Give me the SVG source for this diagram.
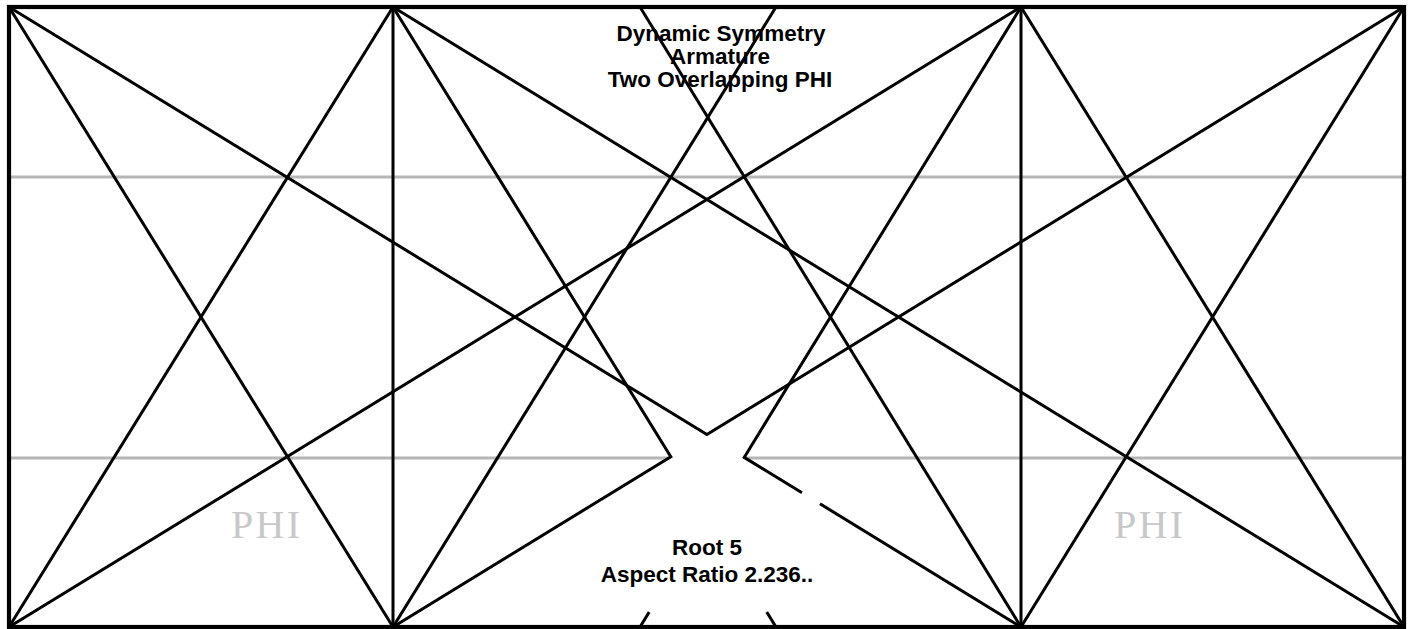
<svg xmlns="http://www.w3.org/2000/svg" width="1413" height="629" viewBox="0 0 1413 629">
<style>
.bg{fill:#ffffff}
.frame{fill:none;stroke:#000;stroke-width:4.2}
.ln{fill:none;stroke:#000;stroke-width:3;stroke-linejoin:miter;stroke-linecap:butt}
.gr{fill:none;stroke:#b6b6b6;stroke-width:3}
.title{font-family:"Liberation Sans",Arial,sans-serif;font-weight:bold;font-size:22.5px;fill:#000;text-anchor:middle}
.phi{font-family:"Liberation Serif","Times New Roman",serif;font-size:40px;fill:#c8c8c8}
</style>
<rect class="bg" x="0" y="0" width="1413" height="629"/>
<g id="guides">
<line class="gr" x1="9" y1="177" x2="1404" y2="177"/>
<line class="gr" x1="9" y1="458" x2="668" y2="458"/>
<line class="gr" x1="746" y1="458" x2="1404" y2="458"/>
</g>
<g id="connectors">
<line class="ln" x1="393" y1="7" x2="393" y2="627"/>
<line class="ln" x1="1021" y1="7" x2="1021" y2="627"/>
<line class="ln" x1="9" y1="7" x2="393" y2="627"/>
<line class="ln" x1="393" y1="7" x2="9" y2="627"/>
<line class="ln" x1="1021" y1="7" x2="1404" y2="627"/>
<line class="ln" x1="1404" y1="7" x2="1021" y2="627"/>
<line class="ln" x1="9" y1="627" x2="1021" y2="7"/>
<line class="ln" x1="393" y1="7" x2="1404" y2="627"/>
<line class="ln" x1="640" y1="7" x2="1021" y2="627"/>
<line class="ln" x1="776" y1="7" x2="393" y2="627"/>
<polyline class="ln" points="9,7 706.9,434.5 1404,7"/>
<polyline class="ln" points="393,7 670.8,456.7 393,627"/>
<polyline class="ln" points="1021,7 744.2,457.4 802,492.8"/>
<line class="ln" x1="820" y1="503.8" x2="1021" y2="627"/>
<line class="ln" x1="766.7" y1="612" x2="776" y2="627"/>
<line class="ln" x1="649.2" y1="612" x2="640" y2="627"/>
</g>
<g id="frame">
<rect class="frame" x="9" y="7" width="1395" height="620"/>
</g>
<g id="title">
<text class="title" x="721" y="41">Dynamic Symmetry</text>
<text class="title" x="720" y="64">Armature</text>
<text class="title" x="720" y="87">Two Overlapping PHI</text>
</g>
<g id="caption">
<text class="title" x="707" y="555">Root 5</text>
<text class="title" x="707" y="582">Aspect Ratio 2.236..</text>
</g>
<g id="phi-left">
<text class="phi" x="231" y="538" textLength="69" lengthAdjust="spacing">PHI</text>
</g>
<g id="phi-right">
<text class="phi" x="1114" y="538" textLength="69" lengthAdjust="spacing">PHI</text>
</g>
</svg>
